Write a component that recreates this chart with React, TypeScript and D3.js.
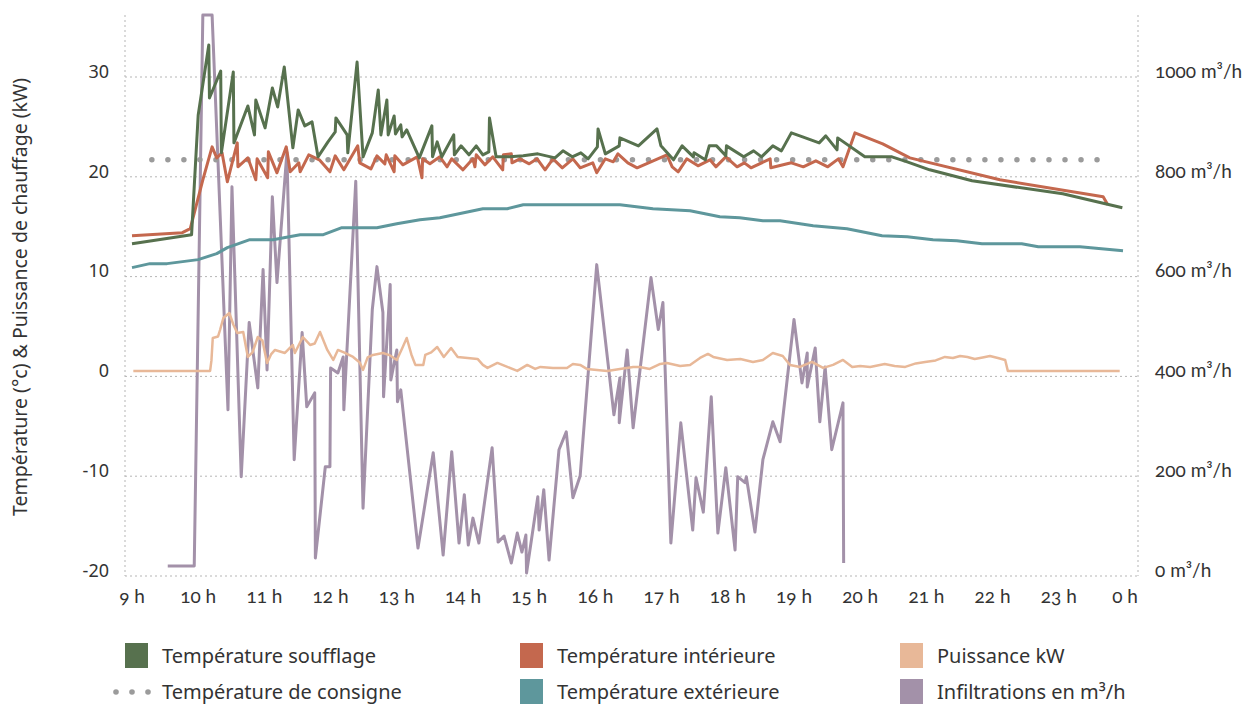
import React from "react";
import * as d3 from "d3";

// Chart size
const width = 1248;
const height = 705;

// Hours shown on the x axis (24 = midnight)
const hourTicks = [9, 10, 11, 12, 13, 14, 15, 16, 17, 18, 19, 20, 21, 22, 23, 24];
const leftTicks = [-20, -10, 0, 10, 20, 30];
const rightTicks = [0, 200, 400, 600, 800, 1000];

// [hour, °C]
const soufflage: [number, number][] = [
  [9.0, 13.3], [9.9, 14.2], [10.0, 26.2], [10.16, 33.2], [10.17, 27.9], [10.34, 30.6], [10.35, 22.4],
  [10.53, 30.5], [10.54, 23.4], [10.75, 27.1], [10.85, 24.2], [10.87, 27.7], [11.01, 24.9], [11.12, 28.9],
  [11.2, 27.0], [11.3, 31.0], [11.43, 22.9], [11.51, 26.7], [11.61, 25.1], [11.72, 25.5], [11.81, 22.0],
  [11.96, 23.5], [12.07, 24.5], [12.08, 25.9], [12.25, 24.2], [12.26, 22.4], [12.4, 31.5], [12.49, 22.0],
  [12.63, 24.4], [12.72, 28.7], [12.76, 24.2], [12.85, 27.7], [12.87, 24.2], [12.96, 26.1], [12.98, 24.3],
  [13.06, 25.2], [13.08, 24.0], [13.15, 24.7], [13.34, 21.9], [13.53, 25.1], [13.54, 22.0], [13.61, 23.5],
  [13.68, 22.0], [13.86, 24.2], [13.87, 22.2], [13.97, 23.1], [14.09, 22.2], [14.2, 23.1], [14.3, 22.2],
  [14.39, 22.5], [14.4, 25.9], [14.5, 22.0], [14.71, 22.0], [14.91, 22.1], [15.13, 22.3], [15.39, 21.9],
  [15.51, 22.6], [15.65, 22.0], [15.78, 22.4], [15.89, 21.8], [16.03, 23.0], [16.04, 24.8], [16.15, 22.3],
  [16.36, 23.1], [16.37, 23.9], [16.65, 23.1], [16.93, 24.8], [16.99, 23.1], [17.18, 21.7], [17.31, 23.1],
  [17.48, 22.0], [17.49, 22.4], [17.66, 21.7], [17.72, 23.1], [17.83, 23.1], [17.97, 22.1], [17.98, 23.1],
  [18.24, 22.0], [18.39, 22.6], [18.51, 22.0], [18.68, 23.1], [18.81, 22.6], [18.96, 24.4], [19.13, 24.0],
  [19.38, 23.4], [19.48, 24.1], [19.65, 22.7], [19.66, 23.9], [20.07, 22.0], [20.48, 22.0], [20.71, 21.5],
  [21.05, 20.7], [21.69, 19.6], [23.06, 18.3], [23.96, 16.9],
];

const interieure: [number, number][] = [
  [9.0, 14.1], [9.76, 14.4], [9.88, 14.8], [10.07, 19.7], [10.21, 23.0], [10.28, 21.9], [10.36, 22.4],
  [10.44, 19.5], [10.59, 23.4], [10.6, 21.0], [10.75, 21.9], [10.87, 19.7], [10.89, 21.8], [11.05, 19.9],
  [11.06, 22.5], [11.19, 20.4], [11.33, 23.0], [11.39, 20.5], [11.52, 21.4], [11.54, 20.5], [11.67, 22.2],
  [11.83, 21.7], [11.99, 20.5], [12.07, 22.1], [12.2, 20.7], [12.41, 23.1], [12.44, 21.4], [12.61, 20.8],
  [12.7, 22.1], [12.82, 21.3], [12.84, 22.2], [12.96, 20.5], [12.97, 22.1], [13.09, 21.2], [13.31, 22.0],
  [13.38, 19.9], [13.39, 21.8], [13.5, 21.3], [13.65, 22.0], [13.76, 21.0], [13.83, 21.8], [14.0, 20.7],
  [14.15, 21.8], [14.18, 21.0], [14.2, 22.2], [14.33, 21.2], [14.45, 22.0], [14.6, 20.7], [14.61, 22.2],
  [14.73, 22.3], [14.74, 21.4], [14.86, 21.8], [15.0, 21.3], [15.12, 21.8], [15.24, 20.7], [15.36, 21.8],
  [15.5, 20.9], [15.66, 21.8], [15.77, 20.9], [15.96, 21.4], [16.02, 20.4], [16.15, 21.8], [16.27, 21.5],
  [16.34, 22.3], [16.49, 21.4], [16.63, 20.9], [17.08, 22.2], [17.16, 21.0], [17.25, 20.5], [17.38, 21.8],
  [17.55, 21.1], [17.73, 21.7], [17.82, 21.0], [17.97, 22.0], [18.14, 21.0], [18.25, 21.4], [18.35, 20.9],
  [18.64, 21.8], [18.65, 20.9], [18.96, 21.4], [19.14, 21.0], [19.33, 21.6], [19.51, 21.0], [19.67, 21.8],
  [19.74, 21.0], [19.92, 24.4], [20.34, 23.3], [20.75, 21.9], [22.11, 19.7], [23.67, 18.0], [23.74, 17.2],
];

const exterieure: [number, number][] = [
  [9.0, 10.9], [9.27, 11.3], [9.53, 11.3], [10.0, 11.7], [10.28, 12.3], [10.44, 12.9], [10.78, 13.7],
  [11.13, 13.7], [11.54, 14.2], [11.89, 14.2], [12.17, 14.9], [12.7, 14.9], [13.0, 15.3], [13.35, 15.7],
  [13.65, 15.9], [14.3, 16.8], [14.67, 16.8], [14.91, 17.2], [16.37, 17.2], [16.87, 16.8], [17.43, 16.6],
  [17.88, 16.0], [18.18, 15.9], [18.53, 15.6], [18.79, 15.6], [19.29, 15.1], [19.8, 14.8], [20.33, 14.1],
  [20.71, 14.0], [21.1, 13.7], [21.46, 13.6], [21.84, 13.3], [22.44, 13.3], [22.69, 13.0], [23.32, 13.0],
  [23.97, 12.6],
];

const consigne: [number, number][] = [[9.3, 21.7], [23.58, 21.7]];

// [hour, kW]
const puissance: [number, number][] = [
  [9.02, 0.55], [10.18, 0.55], [10.2, 1.6], [10.22, 3.85], [10.3, 4.0], [10.33, 4.65], [10.38, 5.85],
  [10.47, 6.35], [10.53, 5.2], [10.59, 4.35], [10.68, 4.45], [10.72, 3.0], [10.75, 1.95], [10.82, 2.4],
  [10.9, 3.95], [10.97, 3.6], [11.04, 1.35], [11.1, 2.2], [11.16, 2.65], [11.31, 2.35], [11.43, 3.15],
  [11.46, 2.35], [11.58, 3.95], [11.69, 3.15], [11.76, 3.3], [11.84, 4.45], [11.95, 2.65], [12.04, 1.65],
  [12.11, 2.65], [12.2, 2.4], [12.34, 1.95], [12.44, 1.4], [12.49, 0.65], [12.56, 1.9], [12.64, 2.15],
  [12.79, 2.35], [12.9, 2.1], [13.0, 1.65], [13.08, 2.8], [13.15, 3.85], [13.22, 2.2], [13.28, 1.15],
  [13.4, 1.15], [13.43, 2.15], [13.52, 2.4], [13.61, 2.95], [13.71, 1.95], [13.82, 2.85], [13.92, 1.95],
  [14.07, 1.85], [14.22, 1.75], [14.3, 1.15], [14.37, 0.85], [14.52, 1.35], [14.67, 0.95], [14.82, 0.55],
  [14.97, 1.15], [15.09, 0.75], [15.17, 0.95], [15.36, 0.85], [15.57, 0.85], [15.66, 1.25], [15.77, 1.15],
  [15.87, 0.75], [16.18, 0.55], [16.37, 0.75], [16.57, 0.95], [16.67, 0.95], [16.82, 0.75], [16.98, 1.25],
  [17.08, 1.35], [17.28, 1.05], [17.43, 1.15], [17.58, 1.85], [17.7, 2.25], [17.78, 1.95], [17.99, 1.65],
  [18.19, 1.75], [18.38, 1.45], [18.53, 1.65], [18.68, 2.35], [18.83, 2.05], [18.94, 1.15], [19.09, 0.95],
  [19.27, 1.45], [19.44, 0.85], [19.59, 1.15], [19.74, 1.65], [19.88, 0.95], [20.0, 1.05], [20.15, 0.95],
  [20.37, 1.25], [20.52, 1.05], [20.68, 0.95], [20.84, 1.3], [20.98, 1.45], [21.14, 1.6], [21.28, 1.95],
  [21.4, 1.85], [21.51, 2.05], [21.62, 1.95], [21.73, 1.75], [21.85, 1.9], [21.96, 2.05], [22.08, 1.85],
  [22.19, 1.65], [22.23, 0.55], [23.92, 0.55],
];

// [hour, m³/h]
const infiltrations: [number, number][] = [
  [9.54, 20], [9.94, 20], [10.07, 1124], [10.21, 1124], [10.45, 333], [10.51, 780], [10.65, 199],
  [10.77, 508], [10.9, 377], [10.98, 614], [11.04, 413], [11.12, 760], [11.19, 588], [11.34, 849],
  [11.45, 233], [11.57, 488], [11.64, 339], [11.76, 367], [11.77, 36], [11.92, 219], [11.99, 219],
  [12.0, 417], [12.11, 407], [12.19, 439], [12.2, 333], [12.38, 791], [12.49, 136], [12.63, 534],
  [12.7, 620], [12.79, 528], [12.8, 359], [12.9, 584], [12.91, 393], [13.0, 453], [13.01, 349],
  [13.06, 373], [13.32, 56], [13.55, 247], [13.7, 42], [13.83, 249], [13.94, 66], [14.02, 163],
  [14.08, 62], [14.15, 116], [14.24, 66], [14.44, 257], [14.53, 68], [14.62, 80], [14.73, 26],
  [14.82, 86], [14.89, 48], [14.95, 82], [14.96, 6], [15.13, 159], [15.15, 92], [15.22, 173],
  [15.3, 32], [15.45, 253], [15.56, 289], [15.66, 157], [15.77, 201], [16.02, 624], [16.28, 323],
  [16.37, 397], [16.36, 307], [16.48, 453], [16.57, 297], [16.84, 598], [16.95, 494], [17.02, 548],
  [17.14, 66], [17.29, 307], [17.47, 92], [17.52, 197], [17.63, 128], [17.75, 359], [17.85, 86],
  [17.97, 217], [18.11, 52], [18.15, 199], [18.26, 187], [18.28, 199], [18.41, 88], [18.53, 233],
  [18.68, 309], [18.79, 269], [19.0, 514], [19.12, 387], [19.2, 447], [19.2, 379], [19.32, 457],
  [19.39, 309], [19.47, 419], [19.57, 253], [19.74, 347], [19.75, 26],
];

const legendItems = [
  { label: "Température soufflage", color: "#57714e", kind: "box" },
  { label: "Température intérieure", color: "#c4684e", kind: "box" },
  { label: "Puissance kW", color: "#e8b898", kind: "box" },
  { label: "Température de consigne", color: "#9b9b9b", kind: "dots" },
  { label: "Température extérieure", color: "#5e979c", kind: "box" },
  { label: "Infiltrations en m³/h", color: "#a391a9", kind: "box" },
];

const FONT = "'Noto Sans', 'Open Sans', sans-serif";
const NUM_FONT = "Lato, 'Noto Sans', sans-serif";

export default function App() {
  const plotLeft = 125;
  const plotRight = 1138;
  const plotTop = 15;
  const plotBottom = 576;

  const x = d3.scaleLinear().domain([9, 24]).range([132, 1125]);
  const yLeft = d3.scaleLinear().domain([-20, 30]).range([plotBottom, 77]);
  const yRight = d3.scaleLinear().domain([0, 1000]).range([plotBottom, 77]);

  const lineL = d3.line<[number, number]>().x(d => x(d[0])).y(d => yLeft(d[1]));
  const lineR = d3.line<[number, number]>().x(d => x(d[0])).y(d => yRight(d[1]));

  const legendCols = [125, 520, 900];
  const legendRows = [656, 692];
  const oldstyle = { fontFeatureSettings: '"onum" 1', fontVariantNumeric: "oldstyle-nums" };

  return (
    <svg width={width} height={height} style={{ position: "absolute", left: 0, top: 0, background: "#fff" }}>
      {/* grid */}
      <g stroke="#b5b5b5" strokeWidth={1} strokeDasharray="2 3">
        {leftTicks.map(t => (
          <line key={t} x1={plotLeft} x2={plotRight} y1={yLeft(t)} y2={yLeft(t)} />
        ))}
        <line x1={plotLeft} x2={plotLeft} y1={plotTop} y2={plotBottom} />
        <line x1={plotRight} x2={plotRight} y1={plotTop} y2={plotBottom} />
      </g>

      {/* left axis */}
      <g fontFamily={FONT} fontSize={18} fill="#333" textAnchor="end">
        {leftTicks.map(t => (
          <text key={t} x={109} y={yLeft(t) - 4} dominantBaseline="middle">{t}</text>
        ))}
      </g>
      <text
        transform="translate(27,297) rotate(-90)"
        textAnchor="middle"
        fontFamily={FONT}
        fontSize={19.5}
        fill="#333"
      >
        Température (°c) &amp; Puissance de chauffage (kW)
      </text>

      {/* right axis */}
      <g fontFamily={NUM_FONT} fontSize={19} fill="#333" style={oldstyle}>
        {rightTicks.map(t => (
          <text key={t} x={1155} y={yRight(t) - 4} dominantBaseline="middle">{t} m³/h</text>
        ))}
      </g>

      {/* x axis */}
      <g fontFamily={NUM_FONT} fontSize={19} fill="#333" textAnchor="middle" style={oldstyle}>
        {hourTicks.map(h => (
          <text key={h} x={x(h)} y={603}>{(h % 24) + " h"}</text>
        ))}
      </g>

      {/* series */}
      <g fill="none" strokeLinejoin="round">
        <path d={lineR(infiltrations) || ""} stroke="#a391a9" strokeWidth={3} />
        <path d={lineL(puissance) || ""} stroke="#e8b898" strokeWidth={2.5} />
        <path d={lineL(exterieure) || ""} stroke="#5e979c" strokeWidth={3} />
        <path d={lineL(consigne) || ""} stroke="#9b9b9b" strokeWidth={5.5} strokeLinecap="round" strokeDasharray="0 16.02" />
        <path d={lineL(interieure) || ""} stroke="#c4684e" strokeWidth={3} />
        <path d={lineL(soufflage) || ""} stroke="#57714e" strokeWidth={3} />
      </g>

      {/* legend */}
      <g fontFamily={FONT} fontSize={20} fill="#333">
        {legendItems.map((it, i) => {
          const cx = legendCols[i % 3];
          const cy = legendRows[Math.floor(i / 3)];
          return (
            <g key={it.label}>
              {it.kind === "box" ? (
                <rect x={cx} y={cy - 13} width={23} height={25} fill={it.color} />
              ) : (
                [116, 132, 148].map(dx => <circle key={dx} cx={dx} cy={cy} r={2.8} fill={it.color} />)
              )}
              <text x={cx + 37} y={cy + 7}>{it.label}</text>
            </g>
          );
        })}
      </g>
    </svg>
  );
}
